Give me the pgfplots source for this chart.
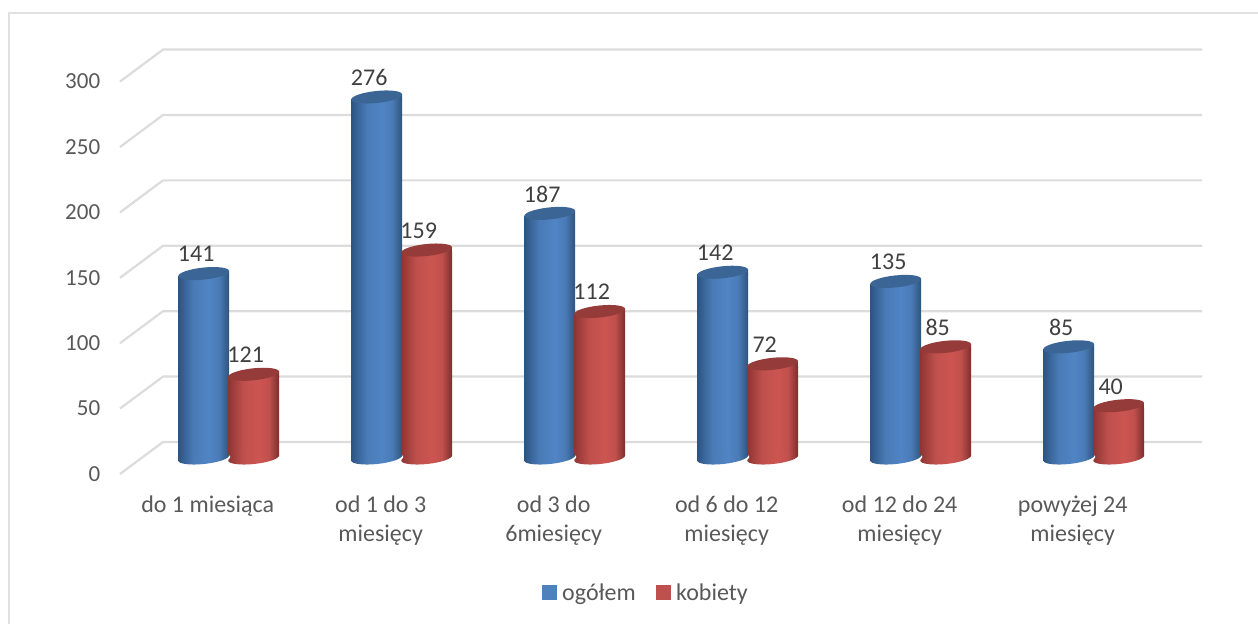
\documentclass[border=0pt]{standalone}
\usepackage{fontspec}
\setmainfont{Carlito}
\usepackage{pgfplots}
\usepackage{pgfplotstable}
\pgfplotsset{compat=1.18}
\definecolor{gridc}{HTML}{DCDCDC}
\definecolor{framec}{HTML}{E0E0E0}
\definecolor{tickc}{HTML}{595959}
\definecolor{labc}{HTML}{404040}
\definecolor{legB}{HTML}{4F81BD}
\definecolor{legR}{HTML}{C0504D}
\definecolor{bA}{HTML}{2C5482}
\definecolor{bB}{HTML}{4A7BB7}
\definecolor{bC}{HTML}{5084C4}
\definecolor{bD}{HTML}{2F5379}
\definecolor{bTop}{HTML}{3A6594}
\definecolor{rA}{HTML}{8E3533}
\definecolor{rB}{HTML}{C0504D}
\definecolor{rC}{HTML}{CC5551}
\definecolor{rD}{HTML}{7A2E2C}
\definecolor{rTop}{HTML}{953B39}
\pgfdeclarehorizontalshading{cylB}{100bp}{color(0bp)=(bA); color(25bp)=(bA); color(40bp)=(bB); color(55bp)=(bC); color(65bp)=(bB); color(75bp)=(bD); color(100bp)=(bD)}
\pgfdeclarehorizontalshading{cylR}{100bp}{color(0bp)=(rA); color(25bp)=(rA); color(40bp)=(rB); color(55bp)=(rC); color(65bp)=(rB); color(75bp)=(rD); color(100bp)=(rD)}
\newcommand{\capcode}[3]{%
  \pgfscope
  \pgftransformxshift{#1}%
  \pgfpathmoveto{\pgfpoint{-25.5pt}{-2.7pt}}%
  \pgfpathlineto{\pgfpoint{25.5pt}{-2.7pt}}%
  \pgfpathlineto{\pgfpoint{25.5pt}{2.7pt}}%
  \pgfpathclose
  \pgfshadepath{#2}{0}%
  \pgfusepath{discard}%
  \pgfsetfillcolor{#3}%
  \pgfpathellipse{\pgfpointorigin}{\pgfpoint{25.4pt}{2.67pt}}{\pgfpoint{-0.63pt}{5.97pt}}%
  \pgfusepath{fill}%
  \endpgfscope}
\newcommand{\basecode}[2]{%
  \pgfscope
  \pgftransformxshift{#1}%
  \pgfsetfillcolor{white}%
  \pgfpathmoveto{\pgfpoint{-25.5pt}{-3.2pt}}%
  \pgfpathlineto{\pgfpoint{26.5pt}{2.4pt}}%
  \pgfpathlineto{\pgfpoint{26.5pt}{-5pt}}%
  \pgfpathlineto{\pgfpoint{-25.5pt}{-5pt}}%
  \pgfpathclose
  \pgfusepath{fill}%
  \pgfpathellipse{\pgfpointorigin}{\pgfpoint{25.4pt}{2.67pt}}{\pgfpoint{-0.63pt}{5.97pt}}%
  \pgfshadepath{#2}{0}%
  \pgfusepath{discard}%
  \endpgfscope}
\pgfdeclareplotmark{capB}{\capcode{-25pt}{cylB}{bTop}}
\pgfdeclareplotmark{capR}{\capcode{25pt}{cylR}{rTop}}
\pgfdeclareplotmark{baseB}{\basecode{-25pt}{cylB}}
\pgfdeclareplotmark{baseR}{\basecode{25pt}{cylR}}
\pgfplotstableread{
x y lab
0 141 141
1 276 276
2 187 187
3 142 142
4 135 135
5 85 85
}\blue
\pgfplotstableread{
x y lab
0 64 121
1 159 159
2 112 112
3 72 72
4 85 85
5 40 40
}\red
\pgfplotsset{
  barB/.style={forget plot,ybar,bar width=51pt,bar shift=-25pt,draw=none,shading=cylB,yshift=-2.7pt},
  barR/.style={forget plot,ybar,bar width=51pt,bar shift=25pt,draw=none,shading=cylR,yshift=-2.7pt},
}
\begin{document}
\begin{tikzpicture}
\path[use as bounding box] (0,0) rectangle (1258pt,624pt);
\draw[framec,line width=2pt] (9pt,0pt) -- (9pt,610.5pt) -- (1258pt,610.5pt);
\begin{axis}[
  at={(142.7pt,166pt)}, anchor=south west,
  scale only axis, width=1040pt, height=392.4pt,
  xmin=-0.497, xmax=5.5146, ymin=0, ymax=300,
  clip=false,
  axis line style={draw=none},
  major tick length=0pt,
  ytick={0,50,...,300},
  xtick={0,...,5},
  xticklabels={do 1 miesiąca,{od 1 do 3\\miesięcy},{od 3 do\\6miesięcy},{od 6 do 12\\miesięcy},{od 12 do 24\\miesięcy},{powyżej 24\\miesięcy}},
  /pgf/number format/assume math mode=true,
  xticklabel style={font=\fontsize{24}{29}\selectfont,text=tickc,align=center,anchor=north,xshift=-21pt,yshift=-34pt},
  yticklabel style={font=\fontsize{23}{28}\selectfont,text=tickc,anchor=east,xshift=-39pt,yshift=-16pt},
  legend style={at={(rel axis cs:0.4837,-0.343)},anchor=center,draw=none,fill=none,
    legend columns=2,font=\fontsize{24}{28}\selectfont,text=tickc,
    /tikz/every odd column/.append style={column sep=4pt},
    /tikz/every even column/.append style={column sep=18pt}},
  legend cell align=left,
  nodes near coords style={font=\fontsize{24}{28}\selectfont,text=labc,anchor=center},
]
\pgfplotsinvokeforeach{0,50,...,300}{
  \draw[gridc,line width=2.2pt] ([shift={(-22.7pt,-16pt)}]axis cs:-0.497,#1) -- ++(43pt,32pt) -- ++(1039pt,0pt);
}
\addlegendimage{legend image code/.code={\fill[legB] (0pt,-7pt) rectangle (14pt,7pt);}}
\addlegendentry{ogółem}
\addlegendimage{legend image code/.code={\fill[legR] (0pt,-7pt) rectangle (14pt,7pt);}}
\addlegendentry{kobiety}
\addplot[barB] coordinates {(0,141)};
\addplot[barB] coordinates {(1,276)};
\addplot[barB] coordinates {(2,187)};
\addplot[barB] coordinates {(3,142)};
\addplot[barB] coordinates {(4,135)};
\addplot[barB] coordinates {(5,85)};
\addplot[forget plot,only marks,mark=baseB] table[x=x,y expr=0] {\blue};
\addplot[forget plot,only marks,mark=capB,point meta=explicit symbolic,
  nodes near coords,nodes near coords style={xshift=-32.5pt,yshift=19.3pt}]
  table[x=x,y=y,meta=lab] {\blue};
\addplot[barR] coordinates {(0,64)};
\addplot[barR] coordinates {(1,159)};
\addplot[barR] coordinates {(2,112)};
\addplot[barR] coordinates {(3,72)};
\addplot[barR] coordinates {(4,85)};
\addplot[barR] coordinates {(5,40)};
\addplot[forget plot,only marks,mark=baseR] table[x=x,y expr=0] {\red};
\addplot[forget plot,only marks,mark=capR,point meta=explicit symbolic,
  nodes near coords,nodes near coords style={xshift=17pt,yshift=19.3pt}]
  table[x=x,y=y,meta=lab] {\red};
\end{axis}
\end{tikzpicture}
\end{document}
